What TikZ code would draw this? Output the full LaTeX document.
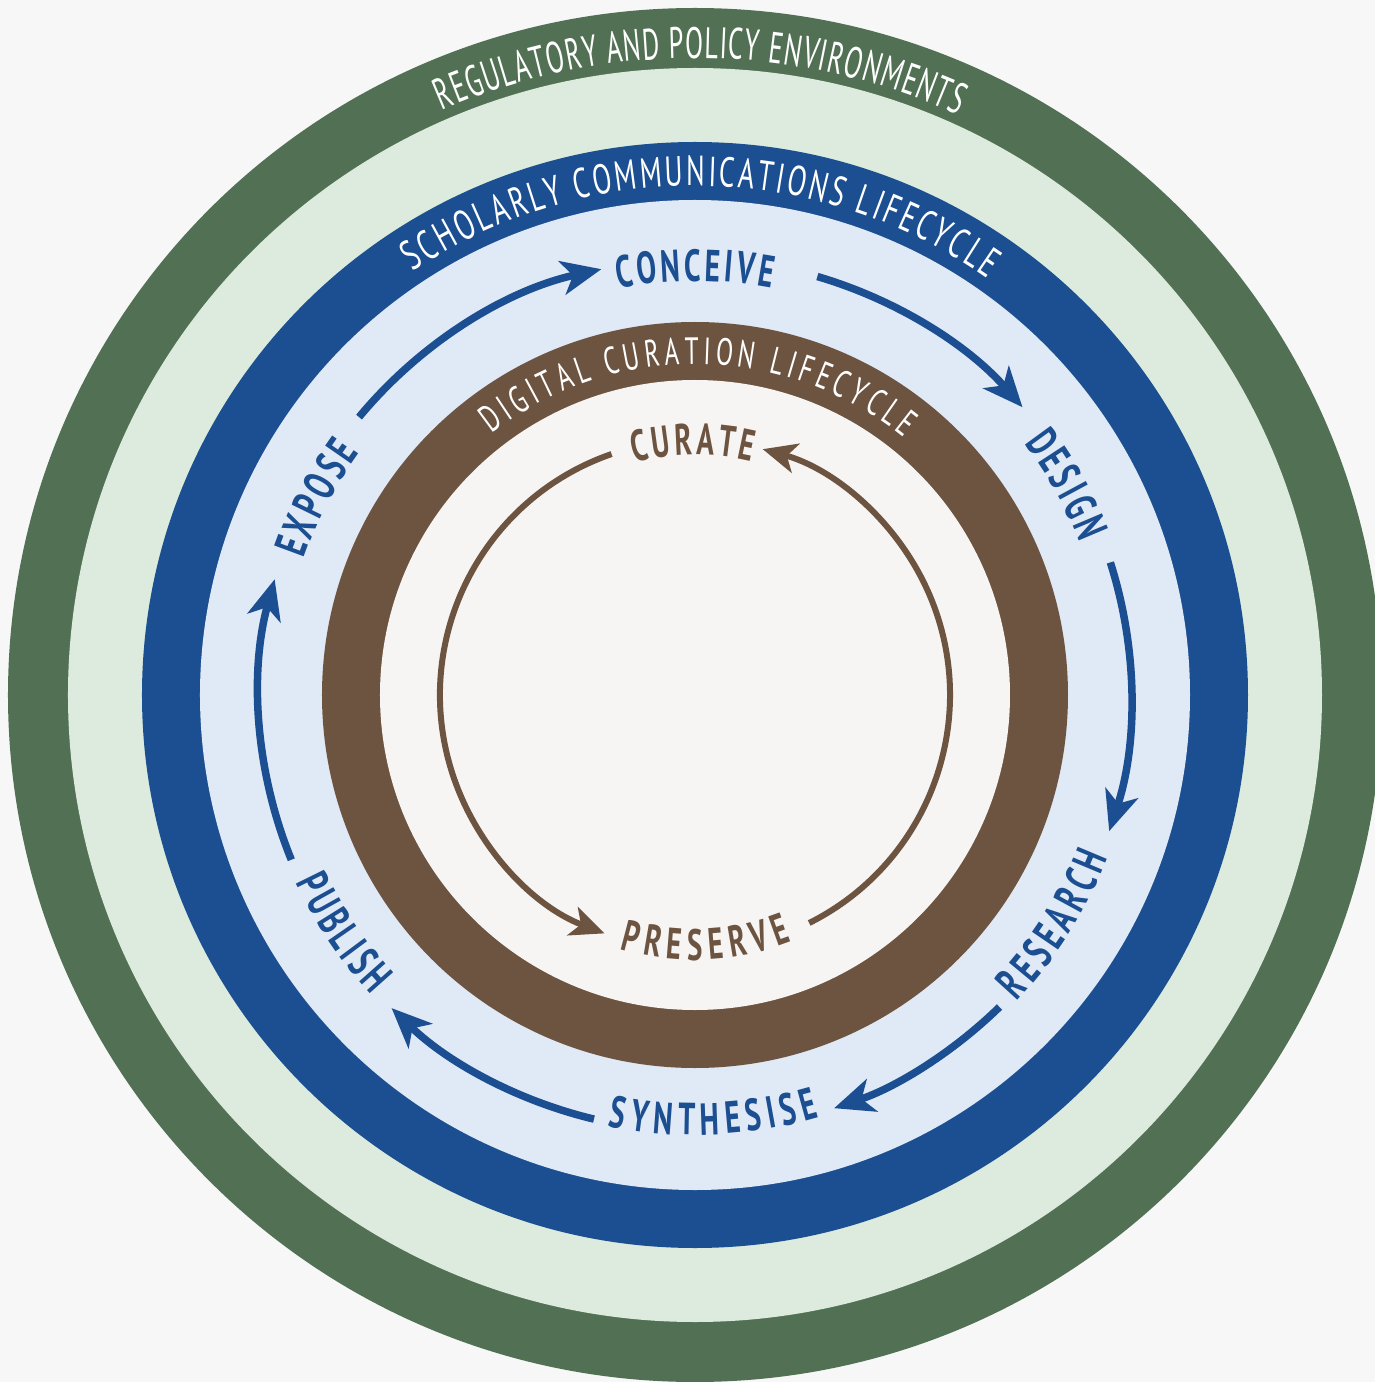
\documentclass[tikz,border=0pt]{standalone}
\usepackage{fontspec}
\usetikzlibrary{arrows.meta}
\newfontfamily\cond[FakeStretch=0.66]{PT Sans}
\newfontfamily\condR[FakeStretch=0.6]{PT Sans}
\definecolor{bgcol}{HTML}{F7F7F7}
\definecolor{dgreen}{HTML}{527154}
\definecolor{lgreen}{HTML}{DCEBDD}
\definecolor{dblue}{HTML}{1B4F91}
\definecolor{lblue}{HTML}{E0E9F6}
\definecolor{brownc}{HTML}{6D5441}
\definecolor{innerc}{HTML}{F6F5F3}
\newdimen\chw
\newcommand\fReg{\condR\fontsize{44}{52}\selectfont\color{white}}
\newcommand\fSch{\cond\fontsize{42}{50}\selectfont\color{white}}
\newcommand\fDig{\cond\fontsize{38}{46}\selectfont\color{white}}
\newcommand\fBlue{\cond\bfseries\fontsize{45}{52}\selectfont\color{dblue}}
\newcommand\fBrown{\cond\bfseries\fontsize{44}{52}\selectfont\color{brownc}}
\newcommand\measurechar[2]{%
  \pgfinterruptpicture\setbox0=\hbox{#1#2}\global\chw=\wd0\relax\endpgfinterruptpicture}
% #1 name, #2 font, #3 baseline radius, #4 centre angle, #5 dir (1 cw/top, -1 ccw/bottom), #6 tracking, #7 chars
\newcommand\arctext[7]{%
  \gdef\atTot{0}%
  \foreach \ch in {#7} {%
    \measurechar{#2}{\ch}%
    \pgfmathsetmacro\atTmp{\atTot+\the\chw+#6}%
    \xdef\atTot{\atTmp}%
  }%
  \pgfmathsetmacro\atTmp{\atTot-#6}\xdef\atTot{\atTmp}%
  \gdef\atCum{0}%
  \foreach \ch [count=\k] in {#7} {%
    \measurechar{#2}{\ch}%
    \pgfmathsetmacro\atS{\atCum+\the\chw/2}%
    \pgfmathsetmacro\atAng{#4+(#5)*(\atTot/2-\atS)/(#3)*180/pi}%
    \pgfmathsetmacro\atRot{\atAng-(#5)*90}%
    \node[anchor=base, inner sep=0pt, outer sep=0pt, rotate=\atRot] (#1\k) at (\atAng:#3pt) {#2\ch};
    \pgfmathsetmacro\atTmp{\atCum+\the\chw+#6}%
    \xdef\atCum{\atTmp}%
  }%
}
\tikzset{
  barrow/.style={draw=dblue, line width=7.5pt, -{Stealth[length=40pt,width=34pt,inset=11pt]}},
  brarrow/.style={draw=brownc, line width=6pt, -{Stealth[length=34pt,width=30pt,inset=9pt]}}
}
\begin{document}
\begin{tikzpicture}[x=1pt,y=1pt]
\useasboundingbox (-695,-687) rectangle (680,695);
\clip (-695,-687) rectangle (680,695);
\fill[bgcol] (-695,-687) rectangle (680,695);
\coordinate (O) at (0,0);
\fill[dgreen] (O) circle[radius=687pt];
\fill[lgreen] (O) circle[radius=627pt];
\fill[dblue] (O) circle[radius=553pt];
\fill[lblue] (O) circle[radius=495pt];
\fill[brownc] (O) circle[radius=373pt];
\fill[innerc] (O) circle[radius=315pt];
% ring titles
\arctext{reg}{\fReg}{637}{89.5}{1}{1}{R,E,G,U,L,A,T,O,R,Y,~,A,N,D,~,P,O,L,I,C,Y,~,E,N,V,I,R,O,N,M,E,N,T,S}
\arctext{sch}{\fSch}{509}{89.3}{1}{2.8}{S,C,H,O,L,A,R,L,Y,~,C,O,M,M,U,N,I,C,A,T,I,O,N,S,~,L,I,F,E,C,Y,C,L,E}
\arctext{dig}{\fDig}{331}{89.4}{1}{4.5}{D,I,G,I,T,A,L,~,C,U,R,A,T,I,O,N,~,L,I,F,E,C,Y,C,L,E}
% scholarly stages
\arctext{con}{\fBlue}{414}{90}{1}{3.5}{C,O,N,C,E,I,V,E}
\arctext{des}{\fBlue}{414}{29.5}{1}{3.5}{D,E,S,I,G,N}
\arctext{res}{\fBlue}{444}{-32.5}{-1}{5}{R,E,S,E,A,R,C,H}
\arctext{syn}{\fBlue}{440}{-87.5}{-1}{6}{S,Y,N,T,H,E,S,I,S,E}
\arctext{pub}{\fBlue}{441}{-146}{-1}{4}{P,U,B,L,I,S,H}
\arctext{exp}{\fBlue}{414}{152.5}{1}{3.5}{E,X,P,O,S,E}
% curation stages
\arctext{cur}{\fBrown}{240}{90.5}{1}{3.5}{C,U,R,A,T,E}
\arctext{pre}{\fBrown}{265}{-87.5}{-1}{6.5}{P,R,E,S,E,R,V,E}
% blue arrows (clockwise)
\coordinate (a1) at (140.4:436pt);
\coordinate (a2) at (73.7:436pt);
\coordinate (a3) at (17.7:436pt);
\coordinate (a4) at (-45.7:436pt);
\coordinate (a5) at (-103.4:436pt);
\coordinate (a6) at (-157.8:436pt);
\draw[barrow] (a1) arc[start angle=140.4, end angle=102.4, radius=436pt];
\draw[barrow] (a2) arc[start angle=73.7, end angle=41.3, radius=436pt];
\draw[barrow] (a3) arc[start angle=17.7, end angle=-18.2, radius=436pt];
\draw[barrow] (a4) arc[start angle=-45.7, end angle=-71.4, radius=436pt];
\draw[barrow] (a5) arc[start angle=-103.4, end angle=-134.1, radius=436pt];
\draw[barrow] (a6) arc[start angle=-157.8, end angle=-195.4, radius=436pt];
% brown arrows (counter-clockwise)
\coordinate (b1) at (109.1:255pt);
\coordinate (b2) at (-63.4:255pt);
\draw[brarrow] (b1) arc[start angle=109.1, end angle=249.2, radius=255pt];
\draw[brarrow] (b2) arc[start angle=-63.4, end angle=74.6, radius=255pt];
\end{tikzpicture}
\end{document}
